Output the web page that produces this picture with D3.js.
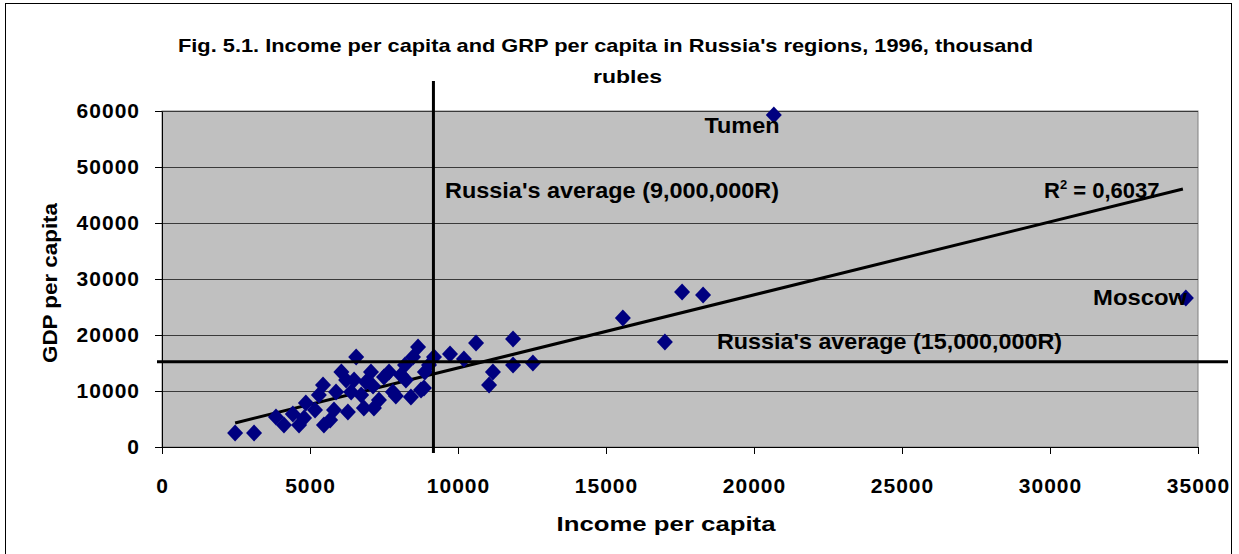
<!DOCTYPE html>
<html>
<head>
<meta charset="utf-8">
<script src="https://cdn.jsdelivr.net/npm/d3@7"></script>
<style>
  body { margin: 0; background: #fff; }
  text { font-family: "Liberation Sans", Arial, sans-serif; font-weight: bold; fill: #000; }
</style>
</head>
<body>
<div id="chart"></div>
<script>
// income per capita vs GDP per capita
const income = [2470, 3110, 3850, 4120, 4420, 4800, 4860, 5170, 5440, 5470, 5680, 5810,
  6060, 6280, 6220, 6390, 6560, 6490, 6730, 6820, 7060, 7160, 7130, 7500, 7800, 8070,
  8240, 8480, 8650, 8410, 8850, 8880, 9190, 9020, 9730, 10200, 10610, 11180, 11050,
  11860, 11860, 12530, 15570, 17570, 18280, 16990, 20670, 34590,
  4630, 5300, 5880, 6890, 7670, 7900, 8750, 8210, 7330];
const gdp = [2500, 2500, 5360, 3930, 5890, 5180, 7860, 6610, 11070, 3930, 4820, 6610,
  13390, 6250, 11970, 9820, 16070, 11970, 9290, 6970, 13390, 6970, 10890, 12500, 9820, 12860,
  11970, 16070, 17860, 8930, 10540, 13390, 16070, 14640, 16610, 15720, 18570, 13390, 11070,
  19290, 14640, 15000, 23040, 27680, 27150, 18750, 59300, 26610,
  3930, 9290, 9820, 11610, 13390, 9110, 10180, 14640, 8390];

const xTicks = [0, 5000, 10000, 15000, 20000, 25000, 30000, 35000];
const yTicks = [0, 10000, 20000, 30000, 40000, 50000, 60000];

const avgIncome = 9170;
const avgGdp = 15230;

// linear trend as drawn in the figure
const trendIncome = [2470, 34490];
const trendSlope = 1.305, trendIntercept = 1067;

const labels = [
  {text: "Tumen", x: 20860, y: 56000, w: 75},
  {text: "Moscow", x: 34630, y: 25360, w: 94}
];

const W = 1239, H = 554;
const svg = d3.select("#chart").append("svg")
  .attr("width", W).attr("height", H);

// outer frame
svg.append("rect")
  .attr("x", 5.5).attr("y", 3.5)
  .attr("width", 1226).attr("height", 600)
  .attr("fill", "#fff").attr("stroke", "#000");

const x = d3.scaleLinear().domain([0, 35000]).range([162, 1198]);
const y = d3.scaleLinear().domain([0, 60000]).range([447, 111]);

function fit(sel, w) {
  return sel.attr("textLength", w).attr("lengthAdjust", "spacingAndGlyphs");
}

// plot area
svg.append("rect")
  .attr("x", x(0)).attr("y", y(60000))
  .attr("width", x(35000) - x(0)).attr("height", y(0) - y(60000))
  .attr("fill", "#c0c0c0").attr("stroke", "#808080");

// gridlines
svg.append("g").selectAll("line")
  .data(yTicks.filter(d => d > 0))
  .join("line")
  .attr("x1", x(0)).attr("x2", x(35000))
  .attr("y1", d => Math.round(y(d)) + 0.5).attr("y2", d => Math.round(y(d)) + 0.5)
  .attr("stroke", "#3a3a3a").attr("stroke-width", 1);

// axes
const xAxis = svg.append("g")
  .attr("transform", `translate(0,${y(0)})`)
  .call(d3.axisBottom(x).tickValues(xTicks).tickSize(7).tickSizeOuter(0).tickPadding(22).tickFormat(d3.format("d")));
const yAxis = svg.append("g")
  .attr("transform", `translate(${x(0)},0)`)
  .call(d3.axisLeft(y).tickValues(yTicks).tickSize(7).tickSizeOuter(0).tickPadding(15).tickFormat(d3.format("d")));
[xAxis, yAxis].forEach(a => {
  a.select(".domain").attr("stroke", "#000");
  a.selectAll(".tick line").attr("stroke", "#000");
  a.selectAll(".tick text")
    .style("font-family", '"Liberation Sans", Arial, sans-serif')
    .style("font-weight", "bold")
    .style("font-size", "21px")
    .style("letter-spacing", "1px")
    .attr("fill", "#000");
});
xAxis.selectAll(".tick text").attr("dy", "0.8em");

// trend line
svg.append("line")
  .attr("x1", x(trendIncome[0])).attr("y1", y(trendSlope * trendIncome[0] + trendIntercept))
  .attr("x2", x(trendIncome[1])).attr("y2", y(trendSlope * trendIncome[1] + trendIntercept))
  .attr("stroke", "#000").attr("stroke-width", 3);

// points
const pts = income.map((v, i) => [v, gdp[i]]);
svg.append("g").selectAll("path")
  .data(pts)
  .join("path")
  .attr("transform", d => `translate(${x(d[0])},${y(d[1])})`)
  .attr("d", "M0,-8.5L8,0L0,8.5L-8,0Z")
  .attr("fill", "#000080");

// average lines
svg.append("line")
  .attr("x1", x(avgIncome)).attr("x2", x(avgIncome))
  .attr("y1", 81).attr("y2", y(0) + 6)
  .attr("stroke", "#000").attr("stroke-width", 3);
svg.append("line")
  .attr("x1", x(0) - 5).attr("x2", 1228)
  .attr("y1", y(avgGdp)).attr("y2", y(avgGdp))
  .attr("stroke", "#000").attr("stroke-width", 3);

// annotations
fit(svg.append("text").attr("x", 445).attr("y", 198).style("font-size", "22px")
  .text("Russia's average (9,000,000R)"), 334);
fit(svg.append("text").attr("x", 717).attr("y", 349).style("font-size", "22px")
  .text("Russia's average (15,000,000R)"), 345);
const r2 = svg.append("text").attr("x", 1044).attr("y", 198).style("font-size", "22px");
r2.append("tspan").text("R");
r2.append("tspan").attr("dy", -9).style("font-size", "13px").text("2");
r2.append("tspan").attr("dy", 9).text(" = 0,6037");

labels.forEach(l => {
  fit(svg.append("text")
    .attr("x", x(l.x)).attr("y", y(l.y))
    .attr("text-anchor", "end")
    .style("font-size", "22px")
    .text(l.text), l.w);
});

// titles
fit(svg.append("text").attr("x", 605.5).attr("y", 52).attr("text-anchor", "middle")
  .style("font-size", "19px")
  .text("Fig. 5.1. Income per capita and GRP per capita in Russia's regions, 1996, thousand"), 855);
fit(svg.append("text").attr("x", 627.5).attr("y", 83).attr("text-anchor", "middle")
  .style("font-size", "19px").text("rubles"), 69);

fit(svg.append("text").attr("x", 666).attr("y", 531).attr("text-anchor", "middle")
  .style("font-size", "21px").text("Income per capita"), 219);
fit(svg.append("text")
  .attr("transform", "translate(57,283) rotate(-90)")
  .attr("text-anchor", "middle")
  .style("font-size", "21px").text("GDP per capita"), 160);
</script>
</body>
</html>
